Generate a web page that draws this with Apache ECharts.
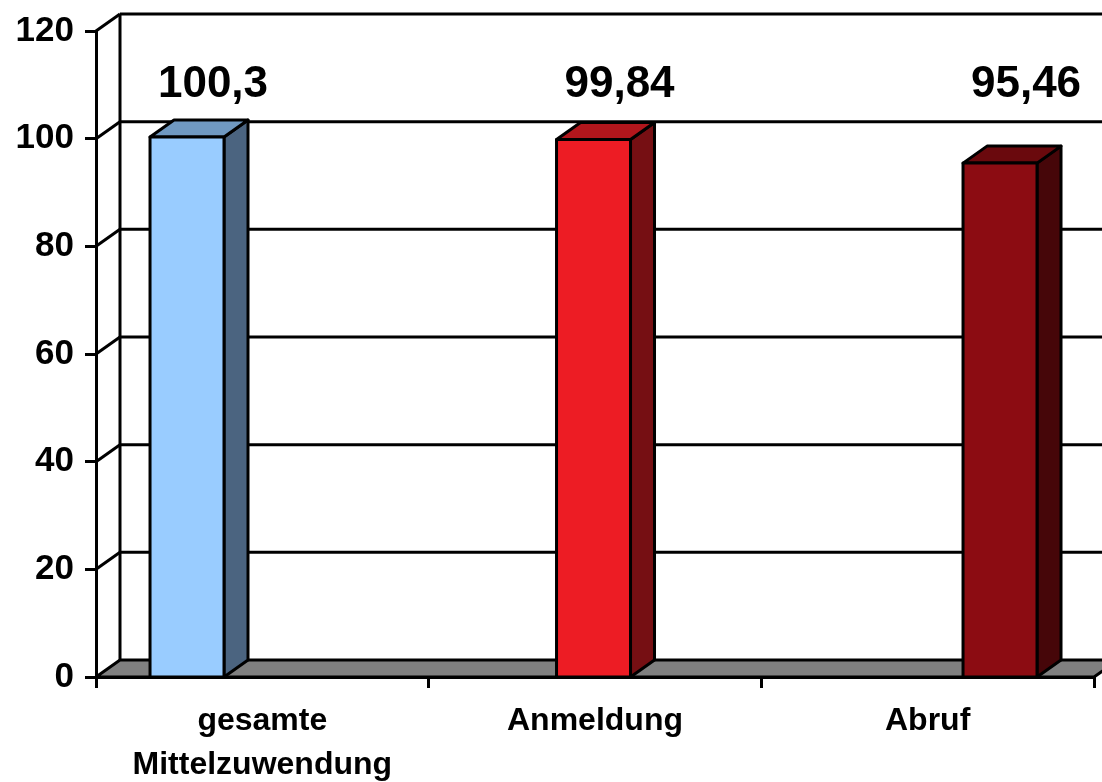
<!DOCTYPE html>
<html>
<head>
<meta charset="utf-8">
<script src="https://cdn.jsdelivr.net/npm/echarts@6/dist/echarts.min.js"></script>
<style>
  html, body { margin: 0; padding: 0; background: #fff; }
  #chart { width: 1102px; height: 782px; }
</style>
</head>
<body>
<div id="chart"></div>
<script>
// Daten
const categories = ['gesamte\nMittelzuwendung', 'Anmeldung', 'Abruf']
const values = [100.3, 99.84, 95.46]
const valueLabels = ['100,3', '99,84', '95,46']
const yTicks = [0, 20, 40, 60, 80, 100, 120]

const frontColors = ['#99ccff', '#ed1c24', '#8c0c12']
const sideColors = ['#4b6480', '#760f13', '#460609']
const topColors = ['#7099c1', '#b2161c', '#6a090d']

// Tiefe der 3D-Darstellung
const DX = 24
const DY = -17
const LINE = 3
const FONT = '"Liberation Sans", Arial, sans-serif'

const chart = echarts.init(document.getElementById('chart'))

function renderWall(params, api) {
  const cs = params.coordSys
  const v = api.value(1)
  const y = api.coord([0, v])[1]
  const x0 = cs.x
  const x1 = cs.x + cs.width
  const children = []
  if (v === 0) {
    children.push({
      type: 'polygon',
      shape: { points: [[x0, y], [x0 + DX, y + DY], [x1 + DX, y + DY], [x1, y]] },
      style: { fill: '#808080', stroke: '#000', lineWidth: LINE }
    })
    const yTop = api.coord([0, yTicks[yTicks.length - 1]])[1]
    children.push({
      type: 'line',
      shape: { x1: x0 + DX, y1: yTop + DY, x2: x0 + DX, y2: y + DY },
      style: { stroke: '#000', lineWidth: LINE }
    })
  } else {
    children.push({
      type: 'line',
      shape: { x1: x0, y1: y, x2: x0 + DX, y2: y + DY },
      style: { stroke: '#000', lineWidth: LINE }
    })
    children.push({
      type: 'line',
      shape: { x1: x0 + DX, y1: y + DY, x2: x1 + DX, y2: y + DY },
      style: { stroke: '#000', lineWidth: LINE }
    })
  }
  return { type: 'group', children: children }
}

function renderBar(params, api) {
  const i = api.value(0)
  const v = api.value(1)
  const half = 0.091
  const left = api.coord([i - half, v])
  const right = api.coord([i + half, 0])
  const xa = left[0], yt = left[1]
  const xb = right[0], yb = right[1]
  const lab = api.coord([i, 110])
  const st = { stroke: '#000', lineWidth: LINE, lineJoin: 'round' }
  return {
    type: 'group',
    children: [
      {
        type: 'polygon',
        shape: { points: [[xb, yb], [xb + DX, yb + DY], [xb + DX, yt + DY], [xb, yt]] },
        style: Object.assign({ fill: sideColors[i] }, st)
      },
      {
        type: 'polygon',
        shape: { points: [[xa, yt], [xa + DX, yt + DY], [xb + DX, yt + DY], [xb, yt]] },
        style: Object.assign({ fill: topColors[i] }, st)
      },
      {
        type: 'rect',
        shape: { x: xa, y: yt, width: xb - xa, height: yb - yt },
        style: Object.assign({ fill: frontColors[i] }, st)
      },
      {
        type: 'text',
        x: (xa + xb) / 2 + 26,
        y: lab[1],
        style: {
          text: valueLabels[i],
          fill: '#000',
          font: 'bold 44px ' + FONT,
          align: 'center',
          verticalAlign: 'middle'
        }
      }
    ]
  }
}

const option = {
  animation: false,
  grid: {
    left: 96, top: 31, width: 998, height: 646,
    containLabel: false,
    outerBoundsMode: 'none'
  },
  xAxis: [
    {
      type: 'category',
      data: categories,
      z: 10,
      axisLine: { show: true, lineStyle: { color: '#000', width: LINE } },
      axisTick: { show: true, length: 11, interval: 0, lineStyle: { color: '#000', width: LINE } },
      axisLabel: {
        interval: 0,
        color: '#000',
        fontFamily: FONT,
        fontWeight: 'bold',
        fontSize: 32,
        lineHeight: 44,
        margin: 22
      },
      splitLine: { show: false }
    },
    {
      type: 'value',
      min: -0.2239,
      max: 2.2312,
      show: false
    }
  ],
  yAxis: {
    type: 'value',
    min: 0,
    max: 120,
    interval: 20,
    z: 10,
    axisLine: { show: true, onZero: false, lineStyle: { color: '#000', width: LINE } },
    axisTick: { show: true, length: 11, lineStyle: { color: '#000', width: LINE } },
    axisLabel: {
      color: '#000',
      fontFamily: FONT,
      fontWeight: 'bold',
      fontSize: 35,
      margin: 22
    },
    splitLine: { show: false }
  },
  series: [
    {
      type: 'custom',
      xAxisIndex: 0,
      renderItem: renderWall,
      data: yTicks.map(v => [0, v]),
      encode: { x: 0, y: 1 },
      silent: true
    },
    {
      type: 'custom',
      xAxisIndex: 1,
      renderItem: renderBar,
      data: values.map((v, i) => [i, v]),
      encode: { x: 0, y: 1 },
      silent: true
    }
  ]
}

chart.setOption(option)
</script>
</body>
</html>
